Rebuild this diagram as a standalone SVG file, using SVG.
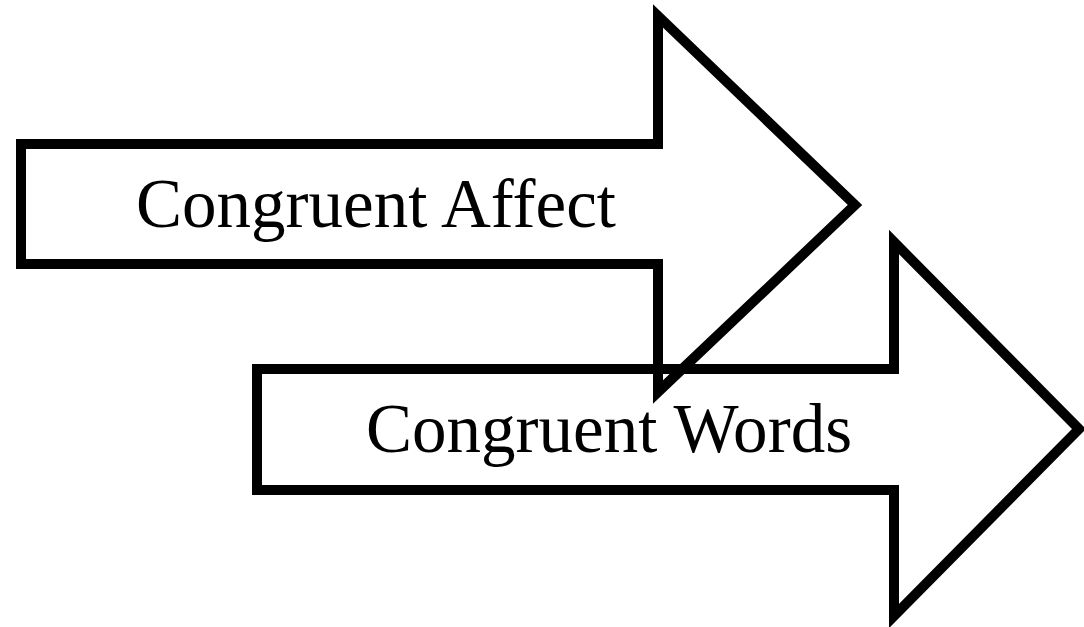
<svg xmlns="http://www.w3.org/2000/svg" width="1084" height="627" viewBox="0 0 1084 627">
<style>
.arrow{fill:none;stroke:#000;stroke-width:10;stroke-linejoin:miter;stroke-miterlimit:10}
.label{font-family:"Liberation Serif","Times New Roman",serif;font-size:69px;fill:#000}
</style>
<rect width="1084" height="627" fill="#fff"/>
<g id="arrow-affect">
<polygon class="arrow" points="21,144 658,144 658,16 855,205 658,392 658,264 21,264"/>
<text class="label" x="136" y="227" textLength="480">Congruent Affect</text>
</g>
<g id="arrow-words">
<polygon class="arrow" points="257,369 894,369 894,242 1079,429 894,616 894,490 257,490"/>
<text class="label" x="366" y="452" textLength="486">Congruent Words</text>
</g>
<g id="connectors"></g>
</svg>
